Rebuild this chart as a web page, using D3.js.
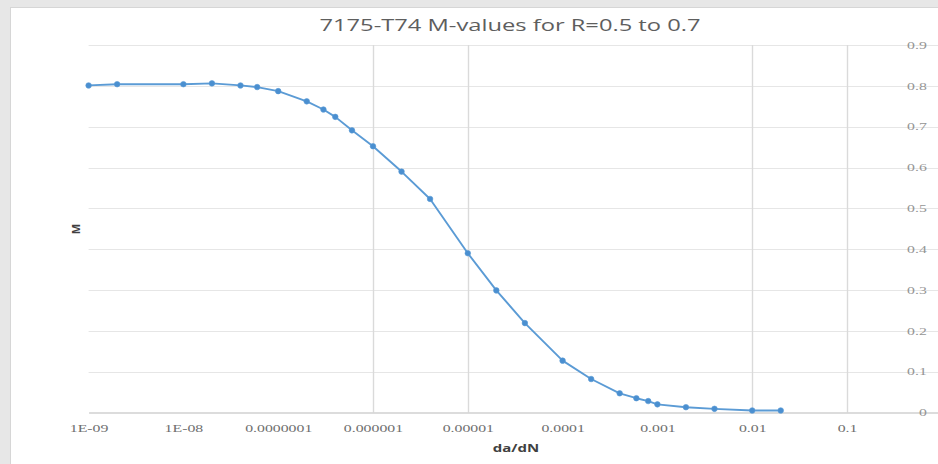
<!DOCTYPE html>
<html>
<head>
<meta charset="utf-8">
<script src="https://cdn.jsdelivr.net/npm/d3@7"></script>
<style>
  html, body { margin: 0; padding: 0; background: #e7e7e7; }
  svg { display: block; }
</style>
</head>
<body>
<svg id="chart" width="938" height="464"></svg>
<script>
// Crack growth rate da/dN and the matching M value
const daDN = [1e-9, 2e-9, 1e-8, 2e-8, 4e-8, 6e-8, 1e-7, 2e-7, 3e-7, 4e-7, 6e-7,
              1e-6, 2e-6, 4e-6, 1e-5, 2e-5, 4e-5, 1e-4, 2e-4, 4e-4, 6e-4, 8e-4,
              1e-3, 2e-3, 4e-3, 1e-2, 2e-2];
const mValues = [0.801, 0.804, 0.804, 0.806, 0.801, 0.797, 0.787, 0.762, 0.742, 0.724, 0.691,
                 0.652, 0.590, 0.523, 0.390, 0.299, 0.219, 0.127, 0.082, 0.047, 0.035, 0.028,
                 0.020, 0.013, 0.009, 0.005, 0.005];

const xTickValues = [1e-9, 1e-8, 1e-7, 1e-6, 1e-5, 1e-4, 1e-3, 1e-2, 1e-1];
const xTickLabels = ["1E-09", "1E-08", "0.0000001", "0.000001", "0.00001", "0.0001", "0.001", "0.01", "0.1"];
const xGridValues = [1e-6, 1e-5, 1e-2, 1e-1];
const yTickValues = [0, 0.1, 0.2, 0.3, 0.4, 0.5, 0.6, 0.7, 0.8, 0.9];
const yTickLabels = ["0", "0.1", "0.2", "0.3", "0.4", "0.5", "0.6", "0.7", "0.8", "0.9"];

const titleText = "7175-T74 M-values for R=0.5 to 0.7";
const xTitle = "da/dN";
const yTitle = "M";

const svg = d3.select("#chart");
const W = 938, H = 464;
const STRETCH = 1.5;   // wide glyph look of the chart's text

// widen a text element horizontally while keeping its anchor
function stretch(sel, f = STRETCH) {
  sel.each(function () {
    const w = this.getComputedTextLength();
    d3.select(this).attr("textLength", w * f).attr("lengthAdjust", "spacingAndGlyphs");
  });
}

// outer frame and chart area
svg.append("rect").attr("width", W).attr("height", H).attr("fill", "#e7e7e7");
svg.append("rect").attr("x", 10.5).attr("y", 7.5).attr("width", W + 10).attr("height", H + 10)
  .attr("fill", "#ffffff").attr("stroke", "#d6d6d6");

const plot = { left: 88.6, right: 941.8, top: 45, bottom: 412.5 };

const x = d3.scaleLog().domain([1e-9, 1]).range([plot.left, plot.right]);
const y = d3.scaleLinear().domain([0, 0.9]).range([plot.bottom, plot.top]);

// horizontal gridlines
svg.append("g").selectAll("line").data(yTickValues.filter(v => v > 0)).join("line")
  .attr("x1", plot.left).attr("x2", W)
  .attr("y1", d => Math.round(y(d)) + 0.5).attr("y2", d => Math.round(y(d)) + 0.5)
  .attr("stroke", "#e6e6e6").attr("stroke-width", 1.2);

// vertical gridlines
svg.append("g").selectAll("line").data(xGridValues).join("line")
  .attr("x1", d => Math.round(x(d)) + 0.5).attr("x2", d => Math.round(x(d)) + 0.5)
  .attr("y1", plot.top).attr("y2", plot.bottom)
  .attr("stroke", "#dadada").attr("stroke-width", 1.4);

// x axis
const xAxis = svg.append("g")
  .attr("transform", `translate(0,${plot.bottom})`)
  .call(d3.axisBottom(x).tickValues(xTickValues)
    .tickFormat((d, i) => xTickLabels[i]).tickSize(0).tickPadding(12));
xAxis.select(".domain").attr("stroke", "#d0d0d0").attr("stroke-width", 1.5);
xAxis.selectAll("text")
  .attr("font-family", "Liberation Serif, serif").attr("font-size", 10).attr("fill", "#707070")
  .call(stretch, 1.58);

// y axis (right side)
const yAxis = svg.append("g")
  .attr("transform", `translate(${plot.right},0)`)
  .call(d3.axisLeft(y).tickValues(yTickValues)
    .tickFormat((d, i) => yTickLabels[i]).tickSize(0).tickPadding(15));
yAxis.select(".domain").remove();
yAxis.selectAll("text")
  .attr("font-family", "Liberation Serif, serif").attr("font-size", 10).attr("fill", "#959595")
  .call(stretch, 1.58);

// series line and markers
const pts = daDN.map((d, i) => [d, mValues[i]]);
svg.append("path")
  .datum(pts)
  .attr("fill", "none").attr("stroke", "#5b9bd5").attr("stroke-width", 1.9)
  .attr("stroke-linejoin", "round")
  .attr("d", d3.line().x(d => x(d[0])).y(d => y(d[1])));

svg.append("g").selectAll("circle").data(pts).join("circle")
  .attr("cx", d => x(d[0])).attr("cy", d => y(d[1])).attr("r", 2.8)
  .attr("fill", "#4a8fd0").attr("stroke", "#5b9bd5").attr("stroke-width", 0.6);

// title
svg.append("text")
  .attr("x", 510).attr("y", 31).attr("text-anchor", "middle")
  .attr("font-family", "Open Sans, sans-serif").attr("font-size", 16).attr("fill", "#5e5e5e")
  .text(titleText).call(stretch, 1.48);

// axis titles
svg.append("text")
  .attr("x", 516).attr("y", 452).attr("text-anchor", "middle")
  .attr("font-family", "Open Sans, sans-serif").attr("font-size", 10).attr("font-weight", "bold")
  .attr("fill", "#404040")
  .text(xTitle).call(stretch);

svg.append("text")
  .attr("transform", "translate(80,229) rotate(-90)")
  .attr("text-anchor", "middle")
  .attr("font-family", "Open Sans, sans-serif").attr("font-size", 11).attr("font-weight", "bold")
  .attr("fill", "#404040")
  .text(yTitle);
</script>
</body>
</html>
